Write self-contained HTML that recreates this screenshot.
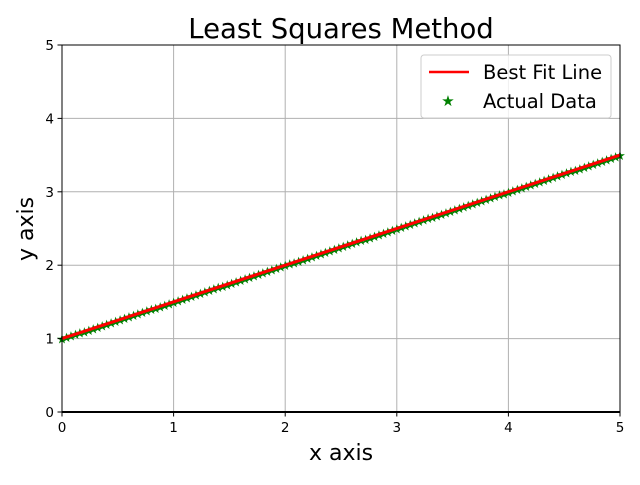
<!DOCTYPE html>
<html><head><meta charset="utf-8"><style>
body{margin:0;background:#fff;}
svg text{font-family:"DejaVu Sans","Liberation Sans",sans-serif;}
</style></head><body>
<svg id="chart" width="640" height="480" viewBox="0 0 640 480">
<rect width="640" height="480" fill="#fff"/>
<g id="grid"></g>
<g id="marks"></g>
<g id="axes"></g>
<text x="341" y="38" font-size="27.5" text-anchor="middle">Least Squares Method</text>
<text x="341" y="460" font-size="22" text-anchor="middle">x axis</text>
<text transform="translate(33,229) rotate(-90)" font-size="22" text-anchor="middle">y axis</text>
<g>
<rect x="421" y="55" width="190" height="63" rx="3" fill="#fff" fill-opacity="0.8" stroke="#ccc"/>
<line x1="429" y1="72" x2="469" y2="72" stroke="#ff0000" stroke-width="2.5"/>
<text x="483" y="79" font-size="19.5">Best Fit Line</text>
<text x="448" y="106" font-size="15" fill="green" text-anchor="middle">★</text>
<text x="483" y="108" font-size="19.5">Actual Data</text>
</g>
</svg>
<script>
const xTicks=[0,1,2,3,4,5];
const yTicks=[0,1,2,3,4,5];
const dataX=[0,0.04,0.08,0.12,0.16,0.2,0.24,0.28,0.32,0.36,0.4,0.44,0.48,0.52,0.56,0.6,0.64,0.68,0.72,0.76,0.8,0.84,0.88,0.92,0.96,1,1.04,1.08,1.12,1.16,1.2,1.24,1.28,1.32,1.36,1.4,1.44,1.48,1.52,1.56,1.6,1.64,1.68,1.72,1.76,1.8,1.84,1.88,1.92,1.96,2,2.04,2.08,2.12,2.16,2.2,2.24,2.28,2.32,2.36,2.4,2.44,2.48,2.52,2.56,2.6,2.64,2.68,2.72,2.76,2.8,2.84,2.88,2.92,2.96,3,3.04,3.08,3.12,3.16,3.2,3.24,3.28,3.32,3.36,3.4,3.44,3.48,3.52,3.56,3.6,3.64,3.68,3.72,3.76,3.8,3.84,3.88,3.92,3.96,4,4.04,4.08,4.12,4.16,4.2,4.24,4.28,4.32,4.36,4.4,4.44,4.48,4.52,4.56,4.6,4.64,4.68,4.72,4.76,4.8,4.84,4.88,4.92,4.96,5];
const dataY=[1,1.02,1.04,1.06,1.08,1.1,1.12,1.14,1.16,1.18,1.2,1.22,1.24,1.26,1.28,1.3,1.32,1.34,1.36,1.38,1.4,1.42,1.44,1.46,1.48,1.5,1.52,1.54,1.56,1.58,1.6,1.62,1.64,1.66,1.68,1.7,1.72,1.74,1.76,1.78,1.8,1.82,1.84,1.86,1.88,1.9,1.92,1.94,1.96,1.98,2,2.02,2.04,2.06,2.08,2.1,2.12,2.14,2.16,2.18,2.2,2.22,2.24,2.26,2.28,2.3,2.32,2.34,2.36,2.38,2.4,2.42,2.44,2.46,2.48,2.5,2.52,2.54,2.56,2.58,2.6,2.62,2.64,2.66,2.68,2.7,2.72,2.74,2.76,2.78,2.8,2.82,2.84,2.86,2.88,2.9,2.92,2.94,2.96,2.98,3,3.02,3.04,3.06,3.08,3.1,3.12,3.14,3.16,3.18,3.2,3.22,3.24,3.26,3.28,3.3,3.32,3.34,3.36,3.38,3.4,3.42,3.44,3.46,3.48,3.5];
const fitX=[0,5];
const fitY=[1,3.5];
const L=62,R=620,T=45,B=412;
const sx=v=>L+(v-0)/(5-0)*(R-L);
const sy=v=>B-(v-0)/(5-0)*(B-T);
const NS='http://www.w3.org/2000/svg';
function mk(tag,attrs,parent){const e=document.createElementNS(NS,tag);for(const k in attrs)e.setAttribute(k,attrs[k]);parent.appendChild(e);return e;}
const grid=document.getElementById('grid'),marks=document.getElementById('marks'),axes=document.getElementById('axes');
xTicks.forEach(t=>{
 const g=mk('line',{x1:sx(t),x2:sx(t),y1:T,y2:B,stroke:'#b0b0b0','stroke-width':1},grid);
 
 
 mk('line',{x1:sx(t),x2:sx(t),y1:B,y2:B+4.5,stroke:'#000','stroke-width':1},axes);
 const tx=mk('text',{x:sx(t),y:B+20,'font-size':13.5,'text-anchor':'middle'},axes);
 tx.textContent=t;
 
 
});
yTicks.forEach(t=>{
 const g=mk('line',{x1:L,x2:R,y1:sy(t),y2:sy(t),stroke:'#b0b0b0','stroke-width':1},grid);
 
 
 mk('line',{x1:L-4.5,x2:L,y1:sy(t),y2:sy(t),stroke:'#000','stroke-width':1},axes);
 const tx=mk('text',{x:L-8,y:sy(t)+5,'font-size':13.5,'text-anchor':'end'},axes);
 tx.textContent=t;
 
 
});
const frame=mk('rect',{x:L,y:T,width:R-L,height:B-T,fill:'none',stroke:'#000','stroke-width':1},axes);


const zl=mk('line',{x1:L,x2:R,y1:sy(0),y2:sy(0),stroke:'#000','stroke-width':2},axes);


dataX.forEach((x,i)=>{
 const s=mk('text',{x:sx(x),y:sy(dataY[i])+5,'font-size':13,fill:'green','text-anchor':'middle'},marks);
 s.textContent='★';
 
 
});
const fit=mk('polyline',{points:fitX.map((x,i)=>sx(x)+','+sy(fitY[i])).join(' '),stroke:'#ff0000','stroke-width':3,fill:'none'},marks);


</script>
</body></html>
